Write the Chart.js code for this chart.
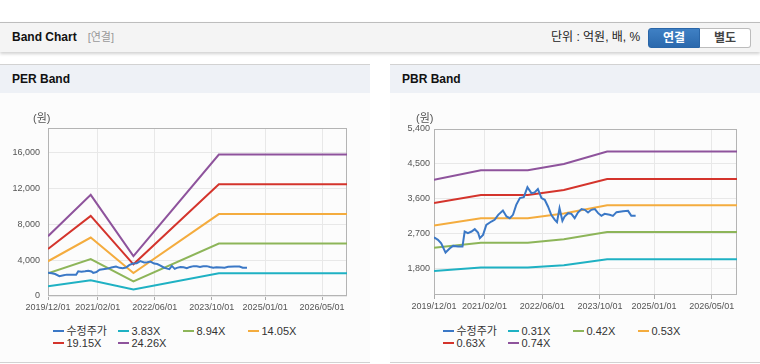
<!DOCTYPE html>
<html>
<head>
<meta charset="utf-8">
<script src="https://cdn.jsdelivr.net/npm/chart.js@4.4.1/dist/chart.umd.min.js"></script>
<style>
    body { margin: 0; width: 760px; height: 364px; position: relative; overflow: hidden; background: #fff;
           font-family: "Liberation Sans", "Noto Sans CJK KR", sans-serif; }
    .head { position: absolute; left: 0; top: 22px; width: 760px; height: 30px; box-sizing: border-box;
            background: #f4f4f4; border-top: 1px solid #bdbdbd; box-shadow: 0 2px 3px rgba(0,0,0,.18); }
    .head .title { position: absolute; left: 12px; top: 0; line-height: 29px; font-size: 12px; font-weight: bold; color: #111; }
    .head .title span { font-weight: normal; font-size: 11px; color: #999; margin-left: 11px; }
    .head .unit { position: absolute; left: 551px; top: 0; line-height: 29px; font-size: 12px; color: #222; }
    .btn { position: absolute; top: 5px; height: 20px; box-sizing: border-box; text-align: center; line-height: 18px;
           font-size: 12px; font-weight: bold; }
    .btn.on { left: 648px; width: 52px; color: #fff; border: 1px solid #2a66a8; border-radius: 3px 0 0 3px;
              background: linear-gradient(#3f80c4, #2b69ad); }
    .btn.off { left: 700px; width: 51px; color: #444; border: 1px solid #bcbcbc; border-left: none;
               border-radius: 0 3px 3px 0; background: #fff; }
    .panel { position: absolute; top: 64px; width: 370px; height: 299px; box-sizing: border-box;
             border-top: 1px solid #d2d2d2; border-bottom: 1px solid #d2d2d2; background: #fcfcfc; }
    .panel .ptitle { height: 28px; line-height: 28px; padding-left: 12px; background: #eef1f6;
                     font-size: 12px; font-weight: bold; color: #111; }
    .chartbox { position: absolute; top: 93px; width: 370px; height: 230px; }
    .unitlab { position: absolute; top: 112px; font-size: 11px; line-height: 12px; color: #555; }
    .legend { position: absolute; top: 324.5px; display: grid; grid-template-columns: repeat(4, 65px);
              font-size: 11px; line-height: 12.5px; color: #333; }
    .legend .li { display: flex; align-items: center; white-space: nowrap; }
    .legend .li i { display: inline-block; width: 11px; height: 2px; margin-right: 2.5px; }
</style>
</head>
<body>

<div class="head">
    <div class="title">Band Chart<span>[연결]</span></div>
    <div class="unit">단위 : 억원, 배, %</div>
    <div class="btn on">연결</div>
    <div class="btn off">별도</div>
</div>

<div class="panel" style="left:0"><div class="ptitle">PER Band</div></div>
<div class="panel" style="left:390px"><div class="ptitle">PBR Band</div></div>

<div class="chartbox" style="left:0"><canvas id="perChart" width="370" height="230"></canvas></div>
<div class="chartbox" style="left:390px"><canvas id="pbrChart" width="370" height="230"></canvas></div>

<div class="unitlab" style="left:33px">(원)</div>
<div class="unitlab" style="left:416px">(원)</div>

<div class="legend" id="perLegend" style="left:53px"></div>
<div class="legend" id="pbrLegend" style="left:443px"></div>

<script>
// x axis: months counted from 2019/12
const xMax = 84;
const xTickMonths = [0, 14, 30, 46, 61, 77];
const xTickLabels = ["2019/12/01", "2021/02/01", "2022/06/01", "2023/10/01", "2025/01/01", "2026/05/01"];

// adjusted share price (same in both charts)
const priceLabel = "수정주가";
const priceMonths = [0, 1.1, 2.0, 3.2, 4.4, 5.3, 6.7, 7.9, 8.5, 9.4, 10.4, 11.3, 12.2, 12.7, 13.6, 14.5,
    15.9, 16.8, 17.8, 19.1, 20.1, 21.0, 21.9, 22.8, 23.8, 24.9, 25.9, 27.0, 27.9, 28.8, 29.8, 30.7,
    31.6, 32.5, 33.5, 34.1, 34.8, 35.6, 36.2, 37.2, 38.1, 39.0, 39.9, 40.9, 41.8, 42.7, 43.6, 44.6,
    45.5, 46.4, 47.3, 48.7, 49.6, 50.6, 52.4, 53.8, 54.7, 55.9];
const priceValues = [2610, 2541, 2455, 2214, 2326, 2386, 2369, 2369, 2757, 2714, 2757, 2817, 2731, 2584, 2670, 2929,
    3015, 3058, 3187, 3299, 3144, 3101, 3187, 3445, 3618, 3643, 3902, 3747, 3764, 3850, 3618, 3575,
    3402, 3187, 3058, 2998, 3359, 3032, 3144, 3230, 3213, 3101, 3247, 3334, 3316, 3247, 3316, 3334,
    3230, 3161, 3213, 3187, 3161, 3256, 3282, 3290, 3161, 3161];

// PER band
const perBandMonths = [0, 12, 24, 48, 84];
const perLabels = ["3.83X", "8.94X", "14.05X", "19.15X", "24.26X"];
const perBand383 = [1090, 1770, 720, 2530, 2530];
const perBand894 = [2540, 4120, 1640, 5860, 5860];
const perBand1405 = [3880, 6530, 2560, 9150, 9150];
const perBand1915 = [5240, 8940, 3540, 12480, 12480];
const perBand2426 = [6680, 11300, 4450, 15790, 15790];
const perYMin = 0, perYMax = 18760;
const perYTicks = [0, 4000, 8000, 12000, 16000];

// PBR band
const pbrBandMonths = [0, 13, 26, 36, 48, 84];
const pbrLabels = ["0.31X", "0.42X", "0.53X", "0.63X", "0.74X"];
const pbrBand031 = [1740, 1830, 1830, 1890, 2040, 2040];
const pbrBand042 = [2340, 2470, 2470, 2560, 2745, 2745];
const pbrBand053 = [2910, 3100, 3100, 3220, 3435, 3435];
const pbrBand063 = [3490, 3700, 3700, 3830, 4110, 4110];
const pbrBand074 = [4090, 4335, 4335, 4500, 4820, 4820];
const pbrYMin = 1120, pbrYMax = 5400;
const pbrYTicks = [1800, 2700, 3600, 4500, 5400];

const lineColors = ["#3b78c6", "#1fb1c3", "#8db559", "#f4ac3e", "#d4342c", "#8e539c"];
const fontFamily = '"Liberation Sans", "Noto Sans CJK KR", sans-serif';

// frame around the plot area
const plotBox = {
    id: "plotBox",
    beforeDatasetsDraw(chart) {
        const a = chart.chartArea, ctx = chart.ctx;
        ctx.save();
        ctx.strokeStyle = "#b4b4b4";
        ctx.lineWidth = 1;
        ctx.strokeRect(Math.round(a.left) + 0.5, Math.round(a.top) + 0.5,
            Math.round(a.right - a.left) - 1, Math.round(a.bottom - a.top) - 1);
        ctx.restore();
    }
};

function buildDatasets(bandMonths, labels, bands) {
    let sets = [{
        label: priceLabel,
        data: priceMonths.map((m, i) => ({ x: m, y: priceValues[i] })),
        borderColor: lineColors[0],
        order: -1
    }];
    labels.forEach((lab, k) => {
        sets.push({
            label: lab,
            data: bandMonths.map((m, i) => ({ x: m, y: bands[k][i] })),
            borderColor: lineColors[k + 1]
        });
    });
    return sets;
}

function createChart(id, datasets, yMin, yMax, yTicks, pad, yPad) {
    return new Chart(document.getElementById(id), {
        type: "line",
        data: { datasets: datasets },
        plugins: [plotBox],
        options: {
            responsive: false,
            animation: false,
            devicePixelRatio: 1,
            layout: { padding: pad },
            elements: {
                line: { borderWidth: 2, tension: 0, fill: false },
                point: { radius: 0, hoverRadius: 0 }
            },
            plugins: { legend: { display: false }, tooltip: { enabled: false } },
            scales: {
                x: {
                    type: "linear",
                    min: 0,
                    max: xMax,
                    afterBuildTicks: s => { s.ticks = xTickMonths.map(v => ({ value: v })); },
                    afterFit: s => { s.height = 25; },
                    ticks: {
                        autoSkip: false, maxRotation: 0, padding: 2, color: "#555",
                        font: { size: 9, family: fontFamily },
                        callback: v => xTickLabels[xTickMonths.indexOf(v)]
                    },
                    grid: { color: "#e8e8e8", tickColor: "#aaa", tickLength: 4 },
                    border: { display: false }
                },
                y: {
                    min: yMin,
                    max: yMax,
                    afterBuildTicks: s => { s.ticks = yTicks.map(v => ({ value: v })); },
                    afterFit: s => { s.width = 40; },
                    ticks: {
                        padding: yPad, color: "#555",
                        font: { size: 9, family: fontFamily },
                        callback: v => v.toLocaleString("en-US")
                    },
                    grid: { color: "#e8e8e8", drawTicks: false },
                    border: { display: false }
                }
            }
        }
    });
}

function buildLegend(chart, id) {
    const el = document.getElementById(id);
    chart.data.datasets.forEach(ds => {
        const item = document.createElement("span");
        item.className = "li";
        const sw = document.createElement("i");
        sw.style.background = ds.borderColor;
        item.appendChild(sw);
        item.appendChild(document.createTextNode(ds.label));
        el.appendChild(item);
    });
}

const perChart = createChart("perChart",
    buildDatasets(perBandMonths, perLabels, [perBand383, perBand894, perBand1405, perBand1915, perBand2426]),
    perYMin, perYMax, perYTicks, { left: 8, right: 23, top: 35, bottom: 2 }, 8);

const pbrChart = createChart("pbrChart",
    buildDatasets(pbrBandMonths, pbrLabels, [pbrBand031, pbrBand042, pbrBand053, pbrBand063, pbrBand074]),
    pbrYMin, pbrYMax, pbrYTicks, { left: 4, right: 23, top: 36, bottom: 3 }, 4);

buildLegend(perChart, "perLegend");
buildLegend(pbrChart, "pbrLegend");
</script>
</body>
</html>
